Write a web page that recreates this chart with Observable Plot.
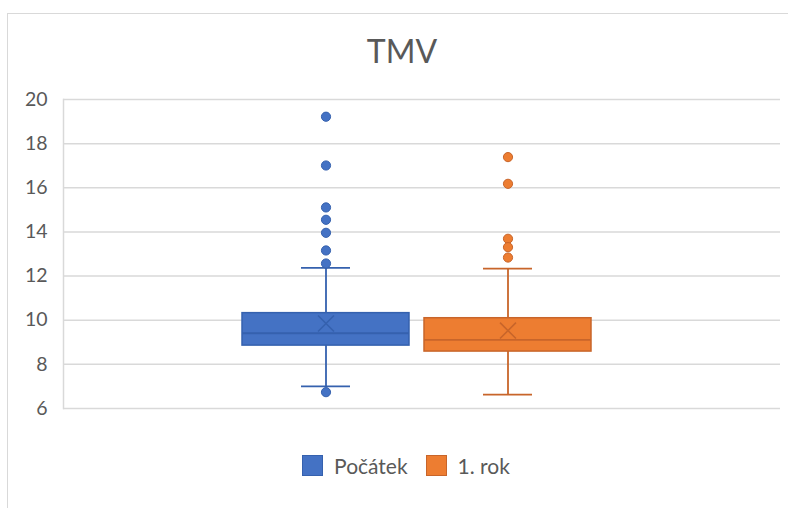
<!DOCTYPE html>
<html>
<head>
<meta charset="utf-8">
<script src="https://cdn.jsdelivr.net/npm/d3@7"></script>
<script src="https://cdn.jsdelivr.net/npm/@observablehq/plot@0.6"></script>
<style>
  html, body { margin: 0; padding: 0; background: #fff; }
  #chart { position: relative; width: 788px; height: 508px; overflow: hidden; font-family: Lato, "Noto Sans", sans-serif; }
  #border { position: absolute; left: 7px; top: 13px; right: -2px; bottom: -2px; border-left: 1.5px solid #d9d9d9; border-top: 1.5px solid #d9d9d9; }
  #title { position: absolute; left: 0; width: 804px; top: 31px; text-align: center; font-size: 32px; color: #595959; }
  #legend { position: absolute; left: 0; width: 812px; top: 453px; display: flex; justify-content: center; align-items: center; font-size: 21px; color: #595959; }
  .item { display: flex; align-items: center; margin: 0 9px; }
  .sw { width: 21px; height: 21px; box-sizing: border-box; margin-right: 11px; }
  #plot { position: absolute; left: 0; top: 0; }
</style>
</head>
<body>
<div id="chart">
  <div id="border"></div>
  <div id="plot"></div>
  <div id="title">TMV</div>
  <div id="legend"></div>
</div>
<script>
const series = ["Počátek", "1. rok"];
const fills = ["#4472C4", "#ED7D31"];
const strokes = ["#3561AE", "#C8652A"];
const whiskerLow = [7.0, 6.63];
const q1 = [8.85, 8.58];
const median = [9.41, 9.11];
const q3 = [10.32, 10.09];
const whiskerHigh = [12.37, 12.34];
const mean = [9.85, 9.53];
const outliersPocatek = [19.22, 17.01, 15.11, 14.55, 13.96, 13.16, 12.57, 6.74];
const outliersRok = [17.39, 16.18, 13.69, 13.31, 12.84];
const yTicks = [6, 8, 10, 12, 14, 16, 18, 20];

const rows = series.map((s, i) => ({
  series: s, lo: whiskerLow[i], q1: q1[i], med: median[i], q3: q3[i], hi: whiskerHigh[i], mean: mean[i]
}));
const outliers = [
  ...outliersPocatek.map(v => ({series: series[0], v})),
  ...outliersRok.map(v => ({series: series[1], v}))
];

const strokeColor = d => strokes[series.indexOf(d.series)];
const fillColor = d => fills[series.indexOf(d.series)];

const chart = Plot.plot({
  width: 788,
  height: 508,
  marginLeft: 63,
  marginRight: 8,
  marginTop: 99,
  marginBottom: 100,
  style: {fontFamily: "Lato, 'Noto Sans', sans-serif", background: "transparent"},
  x: {type: "band", domain: series, range: [242, 591], paddingInner: 15 / 182, paddingOuter: 0, round: false, axis: null},
  y: {domain: [6, 20], ticks: yTicks, tickSize: 0, tickPadding: 16, label: null},
  marks: [
    Plot.ruleY(yTicks, {stroke: "#d9d9d9", strokeWidth: 1.5}),
    Plot.frame({anchor: "left", stroke: "#d9d9d9", strokeWidth: 1.5}),
    Plot.axisY({ticks: yTicks, tickSize: 0, tickPadding: 16, fontSize: 19.5, fill: "#595959", label: null}),
    Plot.ruleX(rows, {x: "series", y1: "lo", y2: "hi", stroke: strokeColor, strokeWidth: 1.8}),
    Plot.tickY(rows, {x: "series", y: "lo", stroke: strokeColor, strokeWidth: 1.8, insetLeft: 59, insetRight: 59}),
    Plot.tickY(rows, {x: "series", y: "hi", stroke: strokeColor, strokeWidth: 1.8, insetLeft: 59, insetRight: 59}),
    Plot.barY(rows, {x: "series", y1: "q1", y2: "q3", fill: fillColor, stroke: strokeColor, strokeWidth: 1.5}),
    Plot.tickY(rows, {x: "series", y: "med", stroke: strokeColor, strokeWidth: 1.8}),
    Plot.dot(rows, {x: "series", y: "mean", symbol: "times", r: 7.3, stroke: strokeColor, strokeWidth: 1.6}),
    Plot.dot(outliers, {x: "series", y: "v", r: 4.6, fill: fillColor, stroke: strokeColor, strokeWidth: 1})
  ]
});
document.getElementById("plot").appendChild(chart);

const legend = document.getElementById("legend");
series.forEach((s, i) => {
  const item = document.createElement("div");
  item.className = "item";
  const sw = document.createElement("div");
  sw.className = "sw";
  sw.style.background = fills[i];
  sw.style.border = "1.5px solid " + strokes[i];
  const t = document.createElement("span");
  t.textContent = s;
  item.appendChild(sw);
  item.appendChild(t);
  legend.appendChild(item);
});
</script>
</body>
</html>
